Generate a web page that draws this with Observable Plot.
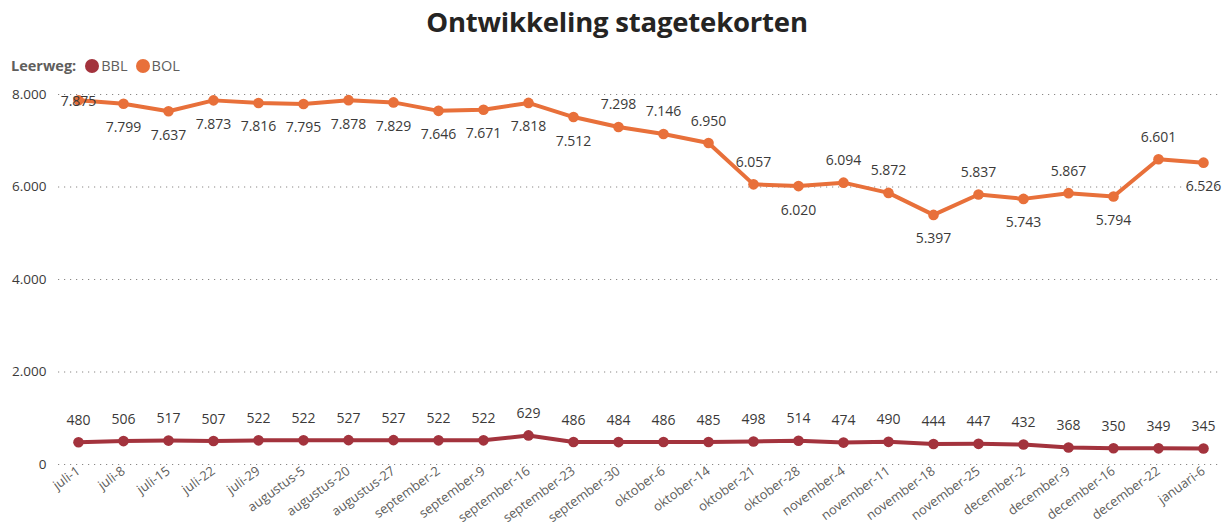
<!DOCTYPE html>
<html>
<head>
<meta charset="utf-8">
<script src="https://cdn.jsdelivr.net/npm/d3@7"></script>
<script src="https://cdn.jsdelivr.net/npm/@observablehq/plot@0.6"></script>
<style>
  body { margin: 0; background: #fff; font-family: "Open Sans", sans-serif; }
  #wrap { width: 1222px; height: 529px; position: relative; overflow: hidden; }
  #title { position: absolute; top: 3px; left: 0; width: 1234px; text-align: center; font-size: 27.5px; font-weight: 700; color: #252423; letter-spacing: -0.2px; }
  #legend { position: absolute; top: 56px; left: 11px; font-size: 14.5px; color: #605e5c; display: flex; align-items: center; }
  #legend b { color: #605e5c; margin-right: 9px; }
  .sw { display: inline-block; width: 14px; height: 14px; border-radius: 50%; margin-right: 2px; }
  .lab { margin-right: 8px; }
  #chart { position: absolute; top: 80px; left: 0; }
</style>
</head>
<body>
<div id="wrap">
  <div id="title">Ontwikkeling stagetekorten</div>
  <div id="legend"></div>
  <div id="chart"></div>
</div>
<script>
const categories = ["juli-1","juli-8","juli-15","juli-22","juli-29","augustus-5","augustus-20","augustus-27","september-2","september-9","september-16","september-23","september-30","oktober-6","oktober-14","oktober-21","oktober-28","november-4","november-11","november-18","november-25","december-2","december-9","december-16","december-22","januari-6"];
const bol = [7875,7799,7637,7873,7816,7795,7878,7829,7646,7671,7818,7512,7298,7146,6950,6057,6020,6094,5872,5397,5837,5743,5867,5794,6601,6526];
const bbl = [480,506,517,507,522,522,527,527,522,522,629,486,484,486,485,498,514,474,490,444,447,432,368,350,349,345];
const series = ["BBL","BOL"];
const colors = ["#A3333D","#E8703A"];
const yTicks = [0,2000,4000,6000,8000];
// label placement relative to the point for BOL (BBL labels are all above)
const bolLabelPlace = ["center","below","below","below","below","below","below","below","below","below","below","below","above","above","above","above","below","above","above","below","above","below","above","below","above","below"];

const nl = d3.formatLocale({decimal: ",", thousands: ".", grouping: [3], currency: ["€", ""]});
const fmt = nl.format(",d");

const data = categories.flatMap((c, i) => [
  {date: c, leerweg: "BBL", value: bbl[i], place: "above"},
  {date: c, leerweg: "BOL", value: bol[i], place: bolLabelPlace[i]}
]);

// legend
const legend = document.getElementById("legend");
legend.innerHTML = "<b>Leerweg:</b>" + series.map((s, i) =>
  `<span class="sw" style="background:${colors[i]}"></span><span class="lab">${s}</span>`).join("");

const labelStyle = {x: "date", y: "value", text: d => fmt(d.value), fill: "#3b3a39", fontSize: 14};

const chart = Plot.plot({
  width: 1222,
  height: 449,
  marginLeft: 58,
  marginRight: 0,
  marginTop: 14,
  marginBottom: 65,
  style: {fontFamily: "'Open Sans', sans-serif", fontSize: "13px", color: "#605e5c", background: "#fff"},
  x: {type: "point", domain: categories, padding: 0.42, label: null},
  y: {domain: [0, 8000], label: null},
  color: {domain: series, range: colors},
  marks: [
    Plot.gridY(yTicks, {stroke: "#8a8886", strokeOpacity: 1, strokeDasharray: "1.2,4.8", strokeWidth: 1.2}),
    Plot.axisY(yTicks, {tickSize: 0, tickPadding: 12, tickFormat: fmt, fontSize: 13.5, fill: "#3b3a39", label: null}),
    Plot.axisX({tickSize: 0, tickRotate: -36, tickPadding: 5, fontSize: 13, fill: "#605e5c", label: null}),
    Plot.line(data, {x: "date", y: "value", z: "leerweg", stroke: "leerweg", strokeWidth: 4, strokeLinejoin: "round"}),
    Plot.dot(data, {x: "date", y: "value", fill: "leerweg", r: 5.3}),
    Plot.text(data.filter(d => d.place === "above"), {...labelStyle, dy: -22}),
    Plot.text(data.filter(d => d.place === "below"), {...labelStyle, dy: 24}),
    Plot.text(data.filter(d => d.place === "center"), {...labelStyle, dy: 1})
  ]
});
document.getElementById("chart").appendChild(chart);
</script>
</body>
</html>
